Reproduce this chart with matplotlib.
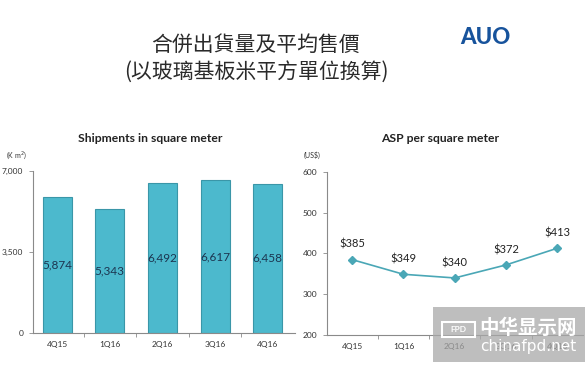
#!/usr/bin/env python3

import matplotlib
matplotlib.use('Agg')
import matplotlib.pyplot as plt
from matplotlib.patches import Rectangle

# Data.
quarters = ['4Q15', '1Q16', '2Q16', '3Q16', '4Q16']
shipments = [5874, 5343, 6492, 6617, 6458]      # K m^2
asp = [385, 349, 340, 372, 413]                 # US$ per m^2
ship_ticks = [0, 3500, 7000]
ship_tick_labels = ['0', '3,500', '7,000']
asp_ticks = [200, 300, 400, 500, 600]

plt.rcParams['font.family'] = ['Lato', 'DejaVu Sans']

W, H = 587, 367
fig = plt.figure(figsize=(W / 100, H / 100), dpi=100)
fig.patch.set_facecolor('white')

def px_axes(x0, y0, x1, y1):
    # Axes from pixel box (top-left origin).
    return fig.add_axes([x0 / W, 1 - y1 / H, (x1 - x0) / W, (y1 - y0) / H])

axis_col = '#8a8a8a'
text_col = '#333333'
label_col = '#1c3550'
bar_col = '#4cb9cd'
bar_edge = '#3a96a8'
line_col = '#4aa7b6'

def style_axes(ax):
    for s in ['top', 'right']:
        ax.spines[s].set_visible(False)
    for s in ['left', 'bottom']:
        ax.spines[s].set_color(axis_col)
        ax.spines[s].set_linewidth(0.8)
    ax.tick_params(axis='y', length=3, width=0.6, color=axis_col,
                   labelsize=6, labelcolor=text_col, pad=4)
    ax.tick_params(axis='x', length=0, labelsize=6, labelcolor=text_col, pad=6)
    ax.set_xticks([i + 0.5 for i in range(len(quarters) - 1)], minor=True)
    ax.tick_params(axis='x', which='minor', length=3, width=0.6, color=axis_col)

# Left: shipments bar chart
ax1 = px_axes(33, 171, 295, 333)
x = range(len(quarters))
ax1.bar(x, shipments, width=0.55, color=bar_col, edgecolor=bar_edge,
        linewidth=0.8, zorder=2)
for i, v in enumerate(shipments):
    ax1.text(i, v / 2, f'{v:,}', ha='center', va='center',
             fontsize=8.5, color=label_col, zorder=3)
ax1.set_xlim(-0.46, 4.52)
ax1.set_ylim(0, 7000)
ax1.set_yticks(ship_ticks)
ax1.set_yticklabels(ship_tick_labels)
ax1.set_xticks(list(x))
ax1.set_xticklabels(quarters)
style_axes(ax1)
fig.text(150 / W, 1 - 139 / H, 'Shipments in square meter', ha='center',
         va='center', fontsize=8.7, fontweight='bold', color='#222222')
fig.text(16 / W, 1 - 155 / H, '(K m$^2$)', ha='center', va='center',
         fontsize=5, color=text_col)

# Right: ASP line chart
ax2 = px_axes(327, 172, 583, 335)
ax2.plot(list(x), asp, color=line_col, linewidth=1.2, marker='D',
         markersize=4, markerfacecolor=line_col, markeredgecolor=line_col)
for i, v in enumerate(asp):
    ax2.annotate(f'${v}', (i, v), xytext=(0, 7), textcoords='offset points',
                 ha='center', va='bottom', fontsize=8, color='#222222')
ax2.set_xlim(-0.49, 4.5)
ax2.set_ylim(200, 600)
ax2.set_yticks(asp_ticks)
ax2.set_xticks(list(x))
ax2.set_xticklabels(quarters)
style_axes(ax2)
fig.text(440 / W, 1 - 139 / H, 'ASP per square meter', ha='center',
         va='center', fontsize=8.7, fontweight='bold', color='#222222')
fig.text(312 / W, 1 - 155 / H, '(US$)', ha='center', va='center',
         fontsize=5, color=text_col)

# Slide titles
cjk = ['Noto Sans CJK TC', 'DejaVu Sans']
fig.text(255 / W, 1 - 45 / H, '合併出貨量及平均售價', ha='center', va='center',
         fontsize=15, fontweight='medium', color='#2a2a2a', family=cjk)
fig.text(256 / W, 1 - 72 / H, '(以玻璃基板米平方單位換算)', ha='center',
         va='center', fontsize=15, fontweight='medium', color='#2a2a2a',
         family=cjk)

# AUO logo
fig.text(485 / W, 1 - 38 / H, 'AUO', ha='center', va='center', fontsize=16,
         fontweight='black', color='#17539c')

# Watermark box
fig.patches.append(Rectangle((433 / W, 1 - 362 / H), 152 / W, 55 / H,
                             transform=fig.transFigure, facecolor='#a8a8a8',
                             alpha=0.75, edgecolor='none', zorder=5))
fig.patches.append(Rectangle((442 / W, 1 - 337 / H), 33 / W, 15 / H,
                             transform=fig.transFigure, facecolor='none',
                             edgecolor='white', linewidth=1.5, zorder=6))
fig.text(458.5 / W, 1 - 329.5 / H, 'FPD', ha='center', va='center',
         fontsize=6, fontweight='bold', color='white', zorder=7)
fig.text(528 / W, 1 - 328 / H, '中华显示网', ha='center', va='center',
         fontsize=14, fontweight='bold', color='white', zorder=7,
         family=['Noto Sans CJK SC', 'DejaVu Sans'])
fig.text(528 / W, 1 - 347 / H, 'chinafpd.net', ha='center', va='center',
         fontsize=11, color='white', zorder=7, family=['DejaVu Sans'])

fig.savefig('out.png', dpi=100)
